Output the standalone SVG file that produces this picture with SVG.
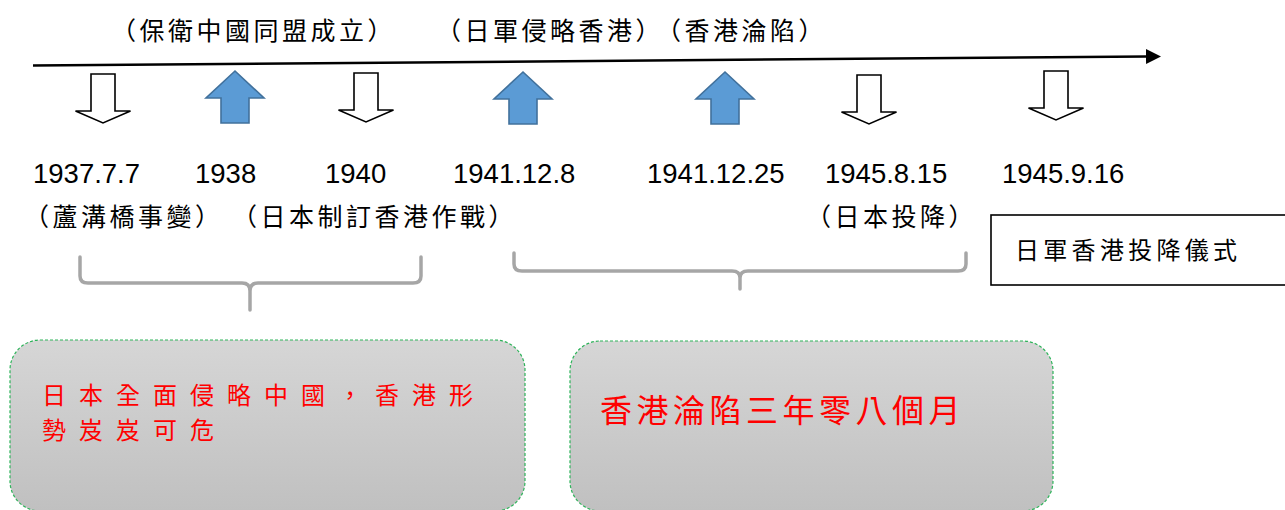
<svg xmlns="http://www.w3.org/2000/svg" width="1285" height="510" viewBox="0 0 1285 510">
<style>
.cjk{font-family:"Noto Sans CJK TC","Noto Sans CJK SC",sans-serif;fill:#000;}
.lbl{font-size:25px;letter-spacing:3.5px;}
.num{font-family:"Liberation Sans",Arial,sans-serif;font-size:27.5px;fill:#000;}
.red{fill:#FF0000;}
.brace{fill:none;stroke:#A6A6A6;stroke-width:3.5;stroke-linecap:round;stroke-linejoin:round;}
.down{fill:#fff;stroke:#000;stroke-width:1.6;stroke-linejoin:miter;}
.up{fill:#5B9BD5;stroke:#41719C;stroke-width:1.6;}
.card{fill:url(#g);stroke:#2EB35A;stroke-width:1.2;stroke-dasharray:3 2;}
</style>
<defs>
<linearGradient id="g" x1="0" y1="0" x2="0" y2="1">
<stop offset="0" stop-color="#D6D6D6"/>
<stop offset="1" stop-color="#C0C0C0"/>
</linearGradient>
<marker id="ah" markerUnits="userSpaceOnUse" markerWidth="16" markerHeight="16" refX="1" refY="8" orient="auto">
<path d="M0,0.5 L15,8 L0,15.5 z" fill="#000"/>
</marker>
<path id="dn" d="M-12,0 H12 V37 H27.5 L0,49 L-27.5,37 H-12 z"/>
<path id="upa" d="M0,0 L29,27 H14 V52 H-14 V27 H-29 z"/>
</defs>

<g id="connectors">
<line x1="33" y1="65.5" x2="1147" y2="56.5" stroke="#000" stroke-width="2.5" marker-end="url(#ah)"/>
<path class="brace" d="M80,257 V276 Q80,283 88,283 H242 Q250,283 250,291 V310 M250,291 Q250,283 258,283 H413 Q421,283 421,276 V257"/>
<path class="brace" d="M514,253 V264 Q514,271 522,271 H732 Q740,271 740,278 V289 M740,278 Q740,271 748,271 H958 Q966,271 966,264 V253"/>
</g>

<g id="arrows">
<use href="#dn" class="down" transform="translate(103,74)"/>
<use href="#upa" class="up" transform="translate(235,71)"/>
<use href="#dn" class="down" transform="translate(366,73)"/>
<use href="#upa" class="up" transform="translate(523,72)"/>
<use href="#upa" class="up" transform="translate(725,72)"/>
<use href="#dn" class="down" transform="translate(869,75)"/>
<use href="#dn" class="down" transform="translate(1056,71)"/>
</g>

<g id="top-labels">
<text class="cjk lbl" x="111" y="40">（保衛中國同盟成立）</text>
<text class="cjk lbl" x="436" y="40">（日軍侵略香港）</text>
<text class="cjk lbl" x="656" y="40">（香港淪陷）</text>
</g>

<g id="dates">
<text class="num" x="33" y="183">1937.7.7</text>
<text class="num" x="195" y="183">1938</text>
<text class="num" x="325" y="183">1940</text>
<text class="num" x="453" y="183">1941.12.8</text>
<text class="num" x="647" y="183">1941.12.25</text>
<text class="num" x="825" y="183">1945.8.15</text>
<text class="num" x="1002" y="183">1945.9.16</text>
</g>

<g id="events">
<text class="cjk lbl" x="24" y="226">（蘆溝橋事變）</text>
<text class="cjk lbl" x="232" y="226">（日本制訂香港作戰）</text>
<text class="cjk lbl" x="806" y="226">（日本投降）</text>
</g>

<g id="ceremony">
<rect x="991" y="215" width="300" height="70" fill="#fff" stroke="#000" stroke-width="1.6"/>
<text class="cjk" x="1015" y="259" font-size="24" letter-spacing="4.3">日軍香港投降儀式</text>
</g>

<g id="summary1">
<rect class="card" x="10" y="340" width="515" height="171" rx="30"/>
<text class="cjk red" x="42" y="404" font-size="24" letter-spacing="13">日本全面侵略中國，香港形</text>
<text class="cjk red" x="42" y="439" font-size="24" letter-spacing="13">勢岌岌可危</text>
</g>

<g id="summary2">
<rect class="card" x="570" y="341" width="483" height="170" rx="30"/>
<text class="cjk red" x="600" y="422" font-size="32" letter-spacing="4.5">香港淪陷三年零八個月</text>
</g>
</svg>
